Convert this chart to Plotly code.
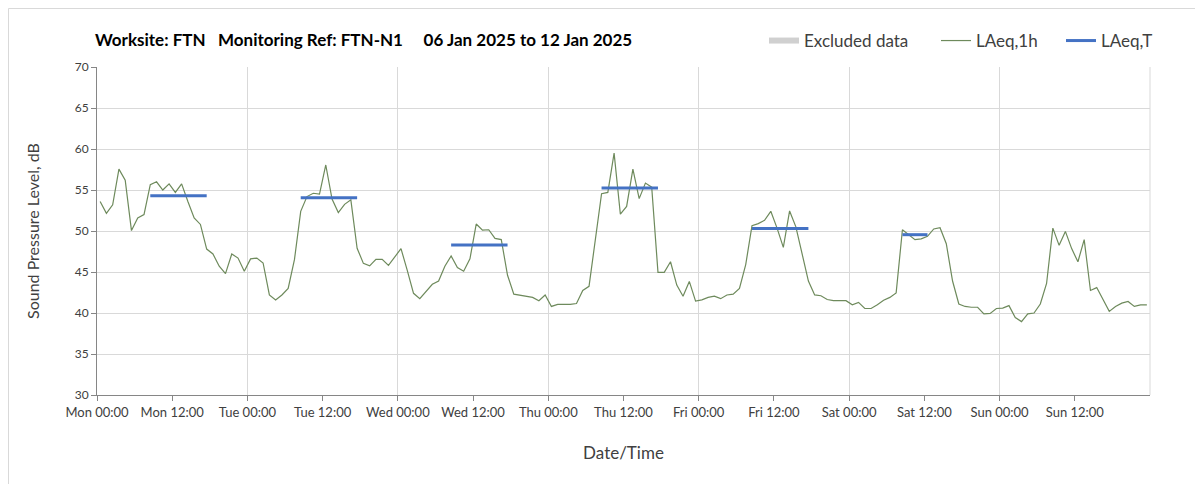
import pandas as pd
import plotly.graph_objects as go

# hourly LAeq,1h values, Mon 06 Jan 2025 00:00 -> Sun 12 Jan 2025 23:00
laeq_1h = [
    # Mon
    53.6, 52.15, 53.2, 57.55, 56.2, 50.05, 51.6, 52.0, 55.65, 56.0, 55.0, 55.75,
    54.7, 55.75, 53.6, 51.6, 50.8, 47.8, 47.2, 45.7, 44.8, 47.2, 46.7, 45.1,
    # Tue
    46.6, 46.7, 46.1, 42.2, 41.6, 42.2, 43.0, 46.5, 52.4, 54.2, 54.6, 54.5,
    58.05, 53.9, 52.25, 53.25, 53.8, 47.9, 46.05, 45.75, 46.55, 46.55, 45.8, 46.85,
    # Wed
    47.85, 45.2, 42.4, 41.75, 42.6, 43.5, 43.9, 45.7, 46.95, 45.55, 45.1, 46.6,
    50.85, 50.1, 50.15, 49.1, 48.95, 44.6, 42.3, 42.15, 42.0, 41.9, 41.5, 42.2,
    # Thu
    40.8, 41.05, 41.05, 41.05, 41.15, 42.75, 43.25, 48.8, 54.55, 54.7, 59.5, 52.05,
    53.0, 57.55, 53.95, 55.85, 55.35, 44.95, 44.95, 46.25, 43.4, 42.05, 43.85, 41.45,
    # Fri
    41.6, 41.9, 42.05, 41.75, 42.2, 42.3, 43.0, 45.9, 50.65, 50.9, 51.3, 52.4,
    50.35, 48.0, 52.45, 50.5, 47.0, 43.9, 42.2, 42.1, 41.65, 41.5, 41.5, 41.5,
    # Sat
    41.0, 41.3, 40.55, 40.55, 41.0, 41.55, 41.9, 42.45, 50.15, 49.6, 48.95, 49.05,
    49.35, 50.25, 50.4, 48.45, 43.9, 41.1, 40.8, 40.7, 40.7, 39.9, 39.95, 40.55,
    # Sun
    40.6, 40.9, 39.45, 38.95, 39.9, 40.0, 41.1, 43.6, 50.35, 48.25, 49.95, 47.85,
    46.25, 48.95, 42.75, 43.1, 41.7, 40.2, 40.8, 41.2, 41.4, 40.8, 41.0, 41.0,
]

# LAeq,T assessment periods
period_start = ['2025-01-06 08:00', '2025-01-07 08:00', '2025-01-08 08:00',
                '2025-01-09 08:00', '2025-01-10 08:00', '2025-01-11 08:00']
period_end = ['2025-01-06 18:00', '2025-01-07 18:00', '2025-01-08 18:00',
              '2025-01-09 18:00', '2025-01-10 18:00', '2025-01-11 13:00']
laeq_t = [54.3, 54.05, 48.3, 55.25, 50.3, 49.55]

# x tick labels every 12 hours (Mon 00:00 ... Sun 12:00)
tick_times = pd.date_range('2025-01-06 00:00', periods=14, freq='12h')

# hourly values plotted at the middle of each hour
hours = pd.date_range('2025-01-06 00:30', periods=len(laeq_1h), freq='h')

half = pd.Timedelta(minutes=30)
tx, ty = [], []
for s, e, v in zip(period_start, period_end, laeq_t):
    tx += [pd.Timestamp(s) + half, pd.Timestamp(e) - half, None]
    ty += [v, v, None]

# the figure sits 8px in from the page corner
W, H = 1195, 476
L, R, T, B = 89, 53, 59, 89
pw, ph = W - L - R, H - T - B


def px_x(x):  # figure px -> paper x
    return (x - L) / pw


def px_y(y):  # figure px -> paper y
    return (H - B - y) / ph


fig = go.Figure()

# legend-only entry for excluded data (none in this week)
fig.add_trace(go.Scatter(
    x=[None], y=[None], mode='none', fill='toself',
    fillcolor='#d0d0d0', name='Excluded data', legend='legend'
))

fig.add_trace(go.Scatter(
    x=hours, y=laeq_1h, mode='lines', name='LAeq,1h',
    line=dict(color='#6e8a5c', width=1.2), legend='legend2'
))

fig.add_trace(go.Scatter(
    x=tx, y=ty, mode='lines', name='LAeq,T',
    line=dict(color='#4472c4', width=3), legend='legend3'
))

grid = '#d9d9d9'
leg_font = dict(family='Lato', size=17, color='#404040')


def leg(xpx):
    return dict(orientation='h', x=px_x(xpx), xanchor='left',
                y=px_y(33), yanchor='middle',
                font=leg_font, bgcolor='rgba(0,0,0,0)', itemwidth=30)


fig.update_layout(
    width=W, height=H,
    margin=dict(l=L, r=R, t=T, b=B),
    paper_bgcolor='white', plot_bgcolor='white',
    font=dict(family='Lato', color='#404040'),
    showlegend=True,
    title=dict(
        text='<b>Worksite: FTN\u00a0\u00a0\u00a0Monitoring Ref: FTN-N1\u00a0\u00a0\u00a0\u00a0\u00a006 Jan 2025 to 12 Jan 2025</b>',
        font=dict(family='Lato', size=17, color='black'),
        x=87 / W, xanchor='left', xref='container',
        y=1 - 32 / H, yanchor='middle', yref='container'
    ),
    legend=leg(756),
    legend2=leg(928),
    legend3=leg(1053),
    shapes=[
        # outer chart frame
        dict(type='line', xref='paper', yref='paper',
             x0=px_x(0.5), x1=px_x(W), y0=px_y(0.5), y1=px_y(0.5),
             line=dict(color=grid, width=1)),
        dict(type='line', xref='paper', yref='paper',
             x0=px_x(0.5), x1=px_x(0.5), y0=px_y(0.5), y1=px_y(H),
             line=dict(color=grid, width=1)),
        # right edge of plot area
        dict(type='line', xref='paper', yref='paper',
             x0=1, x1=1, y0=0, y1=1, layer='below',
             line=dict(color=grid, width=1)),
    ],
)

fig.update_xaxes(
    type='date',
    range=['2025-01-06', '2025-01-13'],
    tickmode='array', tickvals=tick_times, tickformat='%a %H:%M',
    ticks='outside', ticklen=5, tickcolor='#868686',
    showgrid=False, showline=True, linecolor='#868686', mirror=False,
    minor=dict(tick0='2025-01-06', dtick=86400000, showgrid=True,
               gridcolor=grid, gridwidth=1, ticks=''),
    tickfont=dict(family='Lato', size=13, color='#404040'),
    title=dict(text='Date/Time', font=dict(family='Lato', size=17, color='#404040'), standoff=28),
    zeroline=False,
)

fig.update_yaxes(
    range=[30, 70], dtick=5,
    ticks='outside', ticklen=5, tickcolor='#868686',
    showgrid=True, gridcolor=grid, gridwidth=1,
    showline=True, linecolor='#868686',
    tickfont=dict(family='Lato', size=12, color='#404040'),
    title=dict(text='Sound Pressure Level, dB', font=dict(family='Lato', size=16, color='#404040'), standoff=31),
    zeroline=False,
)

fig.write_html('out.html')
